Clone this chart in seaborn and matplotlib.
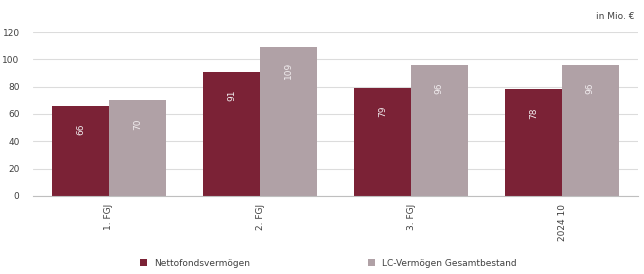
import matplotlib
matplotlib.use("Agg")
import matplotlib.pyplot as plt
import pandas as pd
import seaborn as sns

# values (in Mio. EUR)
periods = ["1. FGJ", "2. FGJ", "3. FGJ", "2024 10"]
netto = [66, 91, 79, 78]
lc_vermoegen = [70, 109, 96, 96]
series_names = ["Nettofondsvermögen", "LC-Vermögen Gesamtbestand"]
colors = ["#7b2236", "#b0a1a6"]

df = pd.DataFrame({
    "Periode": periods * 2,
    "Wert": netto + lc_vermoegen,
    "Serie": [series_names[0]] * 4 + [series_names[1]] * 4,
})

sns.set_style("white")
plt.rcParams["font.family"] = ["DejaVu Sans"]

fig = plt.figure(figsize=(6.44, 2.74), dpi=100)
ax = fig.add_axes([0.052, 0.285, 0.938, 0.598])

sns.barplot(data=df, x="Periode", y="Wert", hue="Serie", palette=colors,
            width=0.75, gap=0, saturation=1, linewidth=0, ax=ax, legend=True)

ax.set_ylim(0, 120)
ax.set_yticks(range(0, 121, 20))
ax.grid(axis="y", color="#dcdcdc", linewidth=0.8)
ax.set_axisbelow(True)
for s in ["top", "right", "left"]:
    ax.spines[s].set_visible(False)
ax.spines["bottom"].set_color("#bfbfbf")
ax.tick_params(length=0, labelsize=6.5, colors="#404040")
ax.tick_params(axis="x", pad=6)
ax.tick_params(axis="y", pad=10)
for lab in ax.get_xticklabels():
    lab.set_rotation(90)
    lab.set_va("top")
ax.set(xlabel=None, ylabel=None)

# value labels inside the bars, rotated
for cont in ax.containers:
    for p in cont:
        h = p.get_height()
        ax.annotate(f"{h:.0f}", (p.get_x() + p.get_width() / 2, h),
                    xytext=(0, -17), textcoords="offset points",
                    ha="center", va="center", rotation=90,
                    fontsize=6.5, color="#f2eef0")

ax.legend(loc="center", bbox_to_anchor=(0.488, -0.41), ncol=2, frameon=False,
          fontsize=6.5, handlelength=0.8, handleheight=0.8,
          columnspacing=13, labelcolor="#404040")

fig.text(0.985, 0.94, "in Mio. €", ha="right", va="center", fontsize=6.5,
         color="#404040")

fig.savefig("out.png", dpi=100)
